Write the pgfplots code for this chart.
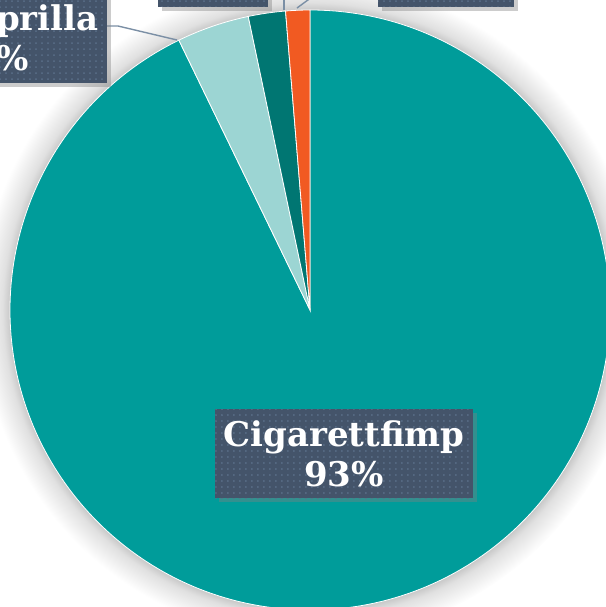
\documentclass[border=0pt]{standalone}
\usepackage{fontspec}
\setmainfont{DejaVu Serif}
\usepackage{pgfplots}
\pgfplotsset{compat=1.18}
\usepackage{pgfplotstable}
\usetikzlibrary{patterns,shadows}
\definecolor{cig}{HTML}{009C9A}
\definecolor{lt}{HTML}{9CD5D3}
\definecolor{dk}{HTML}{007672}
\definecolor{org}{HTML}{F15A22}
\definecolor{boxc}{HTML}{44546A}
\definecolor{dotc}{HTML}{5B708A}
\definecolor{lead}{HTML}{7B8FA5}
\pgfdeclareradialshading{halo}{\pgfpoint{0bp}{0bp}}{color(0bp)=(black!22); color(22.7bp)=(black!22); color(23.3bp)=(black!12); color(25bp)=(white); color(50bp)=(white)}

\pgfplotstableread{
label value
Cigarettfimp 92.8
Snusprilla 3.9
Snus 2.0
Ovrigt 1.3
}\piedata

\begin{document}
\begin{tikzpicture}
\pgfplotstablegetelem{0}{value}\of\piedata \let\vA\pgfplotsretval
\pgfplotstablegetelem{1}{value}\of\piedata \let\vB\pgfplotsretval
\pgfplotstablegetelem{2}{value}\of\piedata \let\vC\pgfplotsretval
\pgfplotstablegetelem{3}{value}\of\piedata \let\vD\pgfplotsretval
\pgfmathsetmacro\aA{90-3.6*\vA}
\pgfmathsetmacro\aB{\aA-3.6*\vB}
\pgfmathsetmacro\aC{\aB-3.6*\vC}
\pgfmathsetmacro\aD{\aC-3.6*\vD}
\tikzset{lbl/.style={fill=boxc, postaction={pattern=dots, pattern color=dotc}, text=white,
  font=\bfseries\fontsize{17}{20}\selectfont, align=center, inner xsep=4pt, minimum height=44.5pt,
  drop shadow={shadow xshift=2pt, shadow yshift=-2pt, opacity=0.4}}}
\begin{axis}[name=ax, at={(0,0)}, anchor=south west, x=0.5pt, y=0.5pt,
  xmin=0, xmax=606, ymin=0, ymax=607, hide axis, scale only axis, clip=false]
\shade[shading=halo] (axis cs:310,297) circle[radius=165pt];
\fill[cig, draw=white, line width=0.4pt] (axis cs:310,297) -- ++(90:150pt) arc[start angle=90, end angle=\aA, radius=150pt] -- cycle;
\fill[lt, draw=white, line width=0.4pt] (axis cs:310,297) -- ++(\aA:150pt) arc[start angle=\aA, end angle=\aB, radius=150pt] -- cycle;
\fill[dk, draw=white, line width=0.4pt] (axis cs:310,297) -- ++(\aB:150pt) arc[start angle=\aB, end angle=\aC, radius=150pt] -- cycle;
\fill[org, draw=white, line width=0.4pt] (axis cs:310,297) -- ++(\aC:150pt) arc[start angle=\aC, end angle=\aD, radius=150pt] -- cycle;
\draw[lead, line width=0.7pt] (axis cs:177,567) -- (axis cs:118,581) -- (axis cs:107,581);
\draw[lead, line width=0.7pt] (axis cs:284,597) -- (axis cs:284,612);
\draw[lead, line width=0.7pt] (axis cs:297,599) -- (axis cs:312,610);
\node[lbl, minimum width=124pt] at (axis cs:344,153.5) {Cigarettfimp\\93\%};
\node[lbl, anchor=south east] at (axis cs:107,524) {Snusprilla\\4\%};
\node[lbl, anchor=south east] at (axis cs:268,600) {Snus\\2\%};
\node[lbl, anchor=south west, minimum width=66pt] at (axis cs:378,600) {Övrigt\\1\%};
\end{axis}
\pgfresetboundingbox
\useasboundingbox (ax.south west) rectangle (ax.north east);
\end{tikzpicture}
\end{document}
